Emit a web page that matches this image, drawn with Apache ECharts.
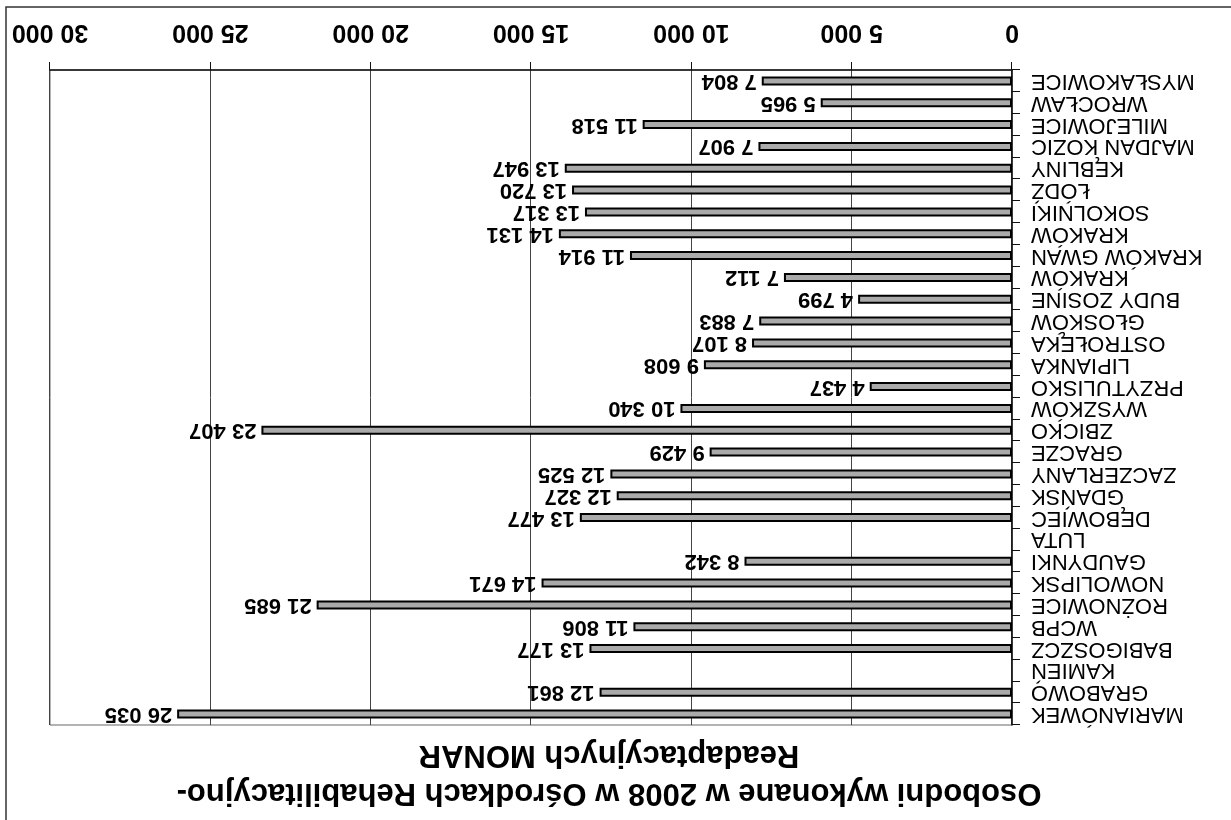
<!DOCTYPE html>
<html>
<head>
<meta charset="utf-8">
<script src="https://cdn.jsdelivr.net/npm/echarts@6/dist/echarts.min.js"></script>
<style>
  html, body { margin: 0; padding: 0; background: #fff; overflow: hidden; }
  #wrap { width: 1231px; height: 820px; transform: rotate(180deg); transform-origin: 50% 50%; }
  #chart { width: 1231px; height: 820px; }
</style>
</head>
<body>
<div id="wrap"><div id="chart"></div></div>
<script>
const categories = [
  'MARIANÓWEK', 'GRABOWO', 'KAMIEŃ', 'BABIGOSZCZ', 'WCPB', 'ROŻNOWICE',
  'NOWOLIPSK', 'GAUDYNKI', 'LUTA', 'DĘBOWIEC', 'GDAŃSK', 'ZACZERLANY',
  'GRACZE', 'ZBICKO', 'WYSZKÓW', 'PRZYTULISKO', 'LIPIANKA', 'OSTROŁĘKA',
  'GŁOSKÓW', 'BUDY ZOSINE', 'KRAKÓW', 'KRAKÓW GWAN', 'KRAKÓW', 'SOKOLNIKI',
  'ŁÓDŹ', 'KĘBLINY', 'MAJDAN KOZIC', 'MILEJOWICE', 'WROCŁAW', 'MYSŁAKOWICE'
];
const values = [
  26035, 12861, null, 13177, 11806, 21685,
  14671, 8342, null, 13477, 12327, 12525,
  9429, 23407, 10340, 4437, 9608, 8107,
  7883, 4799, 7112, 11914, 14131, 13317,
  13720, 13947, 7907, 11518, 5965, 7804
];
const titleLines = ['Osobodni wykonane w 2008 w Ośrodkach Rehabilitacyjno-', 'Readaptacyjnych MONAR'];
const axisMin = 0, axisMax = 30000, axisStep = 5000;

function fmt(v) { return String(v).replace(/\B(?=(\d{3})+(?!\d))/g, ' '); }

const chart = echarts.init(document.getElementById('chart'), null, { renderer: 'canvas' });
chart.setOption({
  animation: false,
  backgroundColor: '#ffffff',
  textStyle: { fontFamily: 'Liberation Sans, Arial, sans-serif' },
  title: {
    text: titleLines.join('\n'),
    left: 622, top: 8, padding: 0, textAlign: 'center',
    textStyle: { fontSize: 31, fontWeight: 'bold', color: '#000', lineHeight: 38, fontFamily: 'Liberation Sans, Arial, sans-serif' }
  },
  grid: { left: 219, right: 50, top: 95, bottom: 70, show: true, borderColor: '#666', borderWidth: 1, backgroundColor: 'transparent' },
  xAxis: {
    type: 'value', min: axisMin, max: axisMax, interval: axisStep,
    axisLine: { show: true, lineStyle: { color: '#111', width: 1.5 } },
    axisTick: { show: true, length: 8, lineStyle: { color: '#111' } },
    splitLine: { show: true, lineStyle: { color: '#444', width: 1 } },
    axisLabel: { fontSize: 25, fontWeight: 'bold', color: '#000', margin: 26, formatter: v => fmt(v) }
  },
  yAxis: {
    type: 'category', data: categories, inverse: true,
    axisLine: { show: true, lineStyle: { color: '#111', width: 1.5 } },
    axisTick: { show: true, length: 8, lineStyle: { color: '#111' } },
    axisLabel: { fontSize: 22, color: '#000', margin: 19, interval: 0 }
  },
  series: [{
    type: 'bar', data: values, barWidth: 9,
    itemStyle: { color: '#aaaaaa', borderColor: '#000', borderWidth: 2 },
    label: {
      show: true, position: 'right', distance: 5,
      fontSize: 22, fontWeight: 'bold', color: '#000',
      formatter: p => (p.value == null ? '' : fmt(p.value))
    }
  }],
  graphic: [{
    type: 'rect', silent: true,
    shape: { x: -10, y: -10, width: 1235, height: 823 },
    style: { fill: 'none', stroke: '#333', lineWidth: 1.5 }
  }]
});
</script>
</body>
</html>
